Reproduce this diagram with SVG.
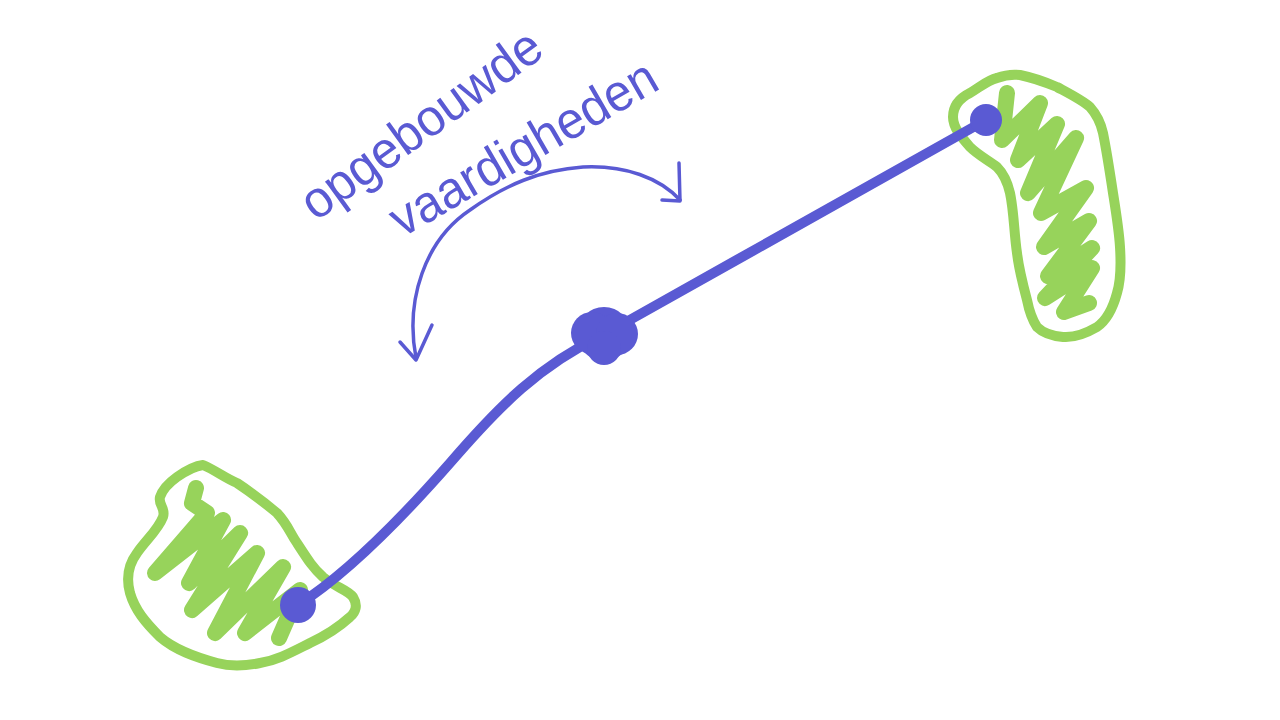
<svg xmlns="http://www.w3.org/2000/svg" width="1280" height="720" viewBox="0 0 1280 720">
<style>
.g{fill:none;stroke:#97d35b;stroke-linecap:round;stroke-linejoin:round}
.b{fill:none;stroke:#5a5ad3;stroke-linecap:round;stroke-linejoin:round}
.bf{fill:#5a5ad3}
.t{font-family:"Liberation Sans","DejaVu Sans",sans-serif;font-size:52px;fill:#5a5ad3}
</style>
<rect width="1280" height="720" fill="#ffffff"/>
<g id="blob-bottom">
<path class="g" stroke-width="10" d="M203,465 C215,470 225,478 237,483 C255,495 265,503 277,513 C288,525 290,533 297,543 C308,560 313,568 323,577 C335,587 348,590 353,597 C358,605 356,612 350,617 C338,628 325,636 310,643 C292,652 278,660 260,663 C245,666 232,667 217,663 C195,657 175,650 160,637 C145,622 135,610 130,593 C126,578 128,565 137,553 C146,540 158,530 163,517 C166,508 158,505 160,497 C163,488 170,482 177,477 C187,470 195,466 203,465 Z"/>
<path class="g" stroke-width="16" d="M196,488 L192,503 L207,513 L155,573 L223,520 L189,583 L240,533 L192,610 L257,553 L215,633 L283,567 L245,633 L300,590 L279,638"/>
</g>
<g id="blob-top">
<path class="g" stroke-width="10" d="M1020,75 C1035,78 1045,82 1057,87 C1070,94 1082,100 1090,107 C1098,116 1101,124 1103,133 C1107,153 1110,173 1113,193 C1116,212 1119,230 1120,247 C1121,263 1121,280 1117,293 C1113,308 1107,320 1097,327 C1085,334 1075,338 1063,337 C1052,336 1043,333 1037,327 C1031,318 1029,310 1027,300 C1023,285 1019,270 1017,253 C1014,233 1014,212 1010,193 C1007,180 1003,173 997,167 C988,160 978,155 970,147 C962,138 953,128 953,117 C953,105 960,98 970,93 C980,87 988,80 997,78 C1005,75 1012,74 1020,75 Z"/>
<path class="g" stroke-width="16" d="M1007,93 L1002,140 L1040,103 L1018,160 L1057,124 L1028,193 L1076,138 L1041,213 L1086,188 L1044,247 L1089,221 L1048,276 L1092,248 L1045,298 L1092,268 L1064,312 L1089,303"/>
</g>
<g id="connectors">
<path class="b" stroke-width="10" d="M298,605 C345,575 400,520 450,463 C500,405 540,365 603,335 L986,120"/>
<path class="b" stroke-width="3.5" d="M416,358 C405,300 425,240 470,210 C505,185 540,170 583,167 C625,165 660,178 680,200"/>
<path class="b" stroke-width="3.5" d="M400,342 L416,360 L432,325"/>
<path class="b" stroke-width="3.5" d="M662,200 L680,201 L679,163"/>
</g>
<g id="dot-bottom"><circle class="bf" cx="298" cy="605" r="18"/></g>
<g id="dot-top"><circle class="bf" cx="986" cy="120" r="16"/></g>
<g id="dot-middle">
<circle class="bf" cx="604" cy="334" r="27"/>
<circle class="bf" cx="592" cy="333" r="21"/>
<circle class="bf" cx="617" cy="334" r="21"/>
<circle class="bf" cx="604" cy="348" r="17"/>
</g>
<g id="label">
<text class="t" transform="translate(316,222) rotate(-36)" textLength="285" lengthAdjust="spacingAndGlyphs">opgebouwde</text>
<text class="t" transform="translate(402,238) rotate(-30)" textLength="300" lengthAdjust="spacingAndGlyphs">vaardigheden</text>
</g>
</svg>
